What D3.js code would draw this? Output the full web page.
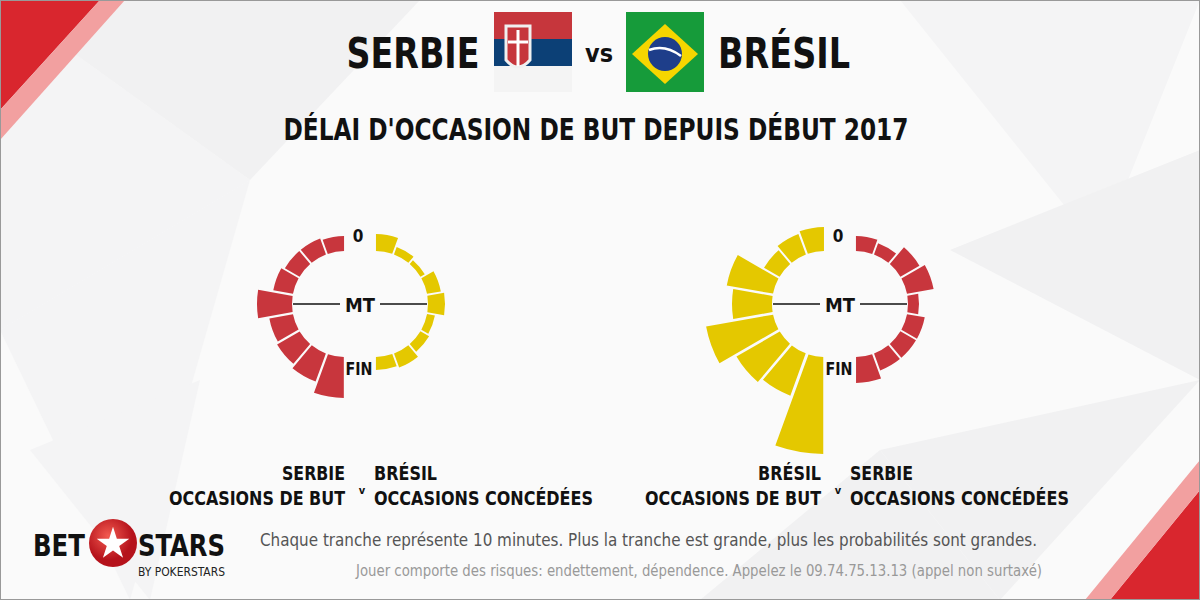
<!DOCTYPE html>
<html><head><meta charset="utf-8">
<script src="https://cdn.jsdelivr.net/npm/d3@7"></script>
<style>body{margin:0;background:#fff}svg{display:block}</style>
</head><body><svg id="c" width="1200" height="600"></svg>
<script>
const slices = ["0-10","10-20","20-30","30-40","40-50","50-60","60-70","70-80","80-90"];
const serbiaAttack   = [15,17,17,20,35,24,26,30,41];
const brazilConceded = [17,8,5,14,17,8,10,15,13];
const brazilAttack   = [24,22,18,47,40,68,50,45,97];
const serbiaConceded = [15,12,22,27,11,18,18,18,26];
const RED="#c8363d", YEL="#e4c800";
const svg=d3.select("#c");
const F="'DejaVu Sans Condensed','Roboto',sans-serif";
const bg=svg.append("g");
bg.append("rect").attr("width",1200).attr("height",600).attr("fill","#fafafa");
const tri=[[0,0,250,180,0,330],[250,180,420,0,0,0],[900,0,1200,0,1100,250],[950,250,1200,380,1200,150],[0,330,250,180,130,600],[1000,600,1200,380,880,450],[30,450,200,380,150,600],[700,600,880,450,1000,600]];
tri.forEach((t,i)=>bg.append("polygon").attr("points",[[t[0],t[1]],[t[2],t[3]],[t[4],t[5]]].join(" ")).attr("fill",i%2?"#f1f1f2":"#f4f4f5"));
bg.append("polygon").attr("points","0,0 100,0 0,110").attr("fill","#d9262e");
bg.append("polygon").attr("points","100,0 125,0 0,140 0,110").attr("fill","#f2a0a0");
bg.append("polygon").attr("points","1200,600 1110,600 1200,490").attr("fill","#d9262e");
bg.append("polygon").attr("points","1110,600 1085,600 1200,460 1200,490").attr("fill","#f2a0a0");
svg.append("rect").attr("x",0.5).attr("y",0.5).attr("width",1199).attr("height",599).attr("fill","none").attr("stroke","#999");

const T=(x,y,s,size,opt={})=>{const t=svg.append("text").attr("x",x).attr("y",y).text(s).attr("font-family",F).attr("font-weight",opt.w||"bold").attr("font-size",size).attr("fill",opt.c||"#111").attr("text-anchor",opt.a||"start");
  if(opt.L) t.attr("textLength",opt.L).attr("lengthAdjust","spacingAndGlyphs"); return t;};
T(413,68,"SERBIE",42,{a:"middle",L:133});
T(599,62,"vs",24,{a:"middle",L:28});
T(784,68,"BRÉSIL",42,{a:"middle",L:132});
T(596,140,"DÉLAI D'OCCASION DE BUT DEPUIS DÉBUT 2017",30,{a:"middle",L:625});
const fs=svg.append("g").attr("transform","translate(494,12)");
fs.append("rect").attr("width",78).attr("height",27).attr("fill","#c6363c");
fs.append("rect").attr("y",27).attr("width",78).attr("height",27).attr("fill","#0c4076");
fs.append("rect").attr("y",54).attr("width",78).attr("height",26).attr("fill","#f4f4f4");
fs.append("path").attr("d","M12,14 h24 v34 q-12,14 -24,0 z").attr("fill","#c6363c").attr("stroke","#f0f0f0").attr("stroke-width",3);
fs.append("path").attr("d","M24,18 v36 M14,30 h20").attr("stroke","#fff").attr("stroke-width",3);
const fb=svg.append("g").attr("transform","translate(626,12)");
fb.append("rect").attr("width",78).attr("height",80).attr("fill","#169b3a");
fb.append("polygon").attr("points","39,12 72,42 39,72 6,42").attr("fill","#f6d600");
fb.append("circle").attr("cx",39).attr("cy",42).attr("r",17).attr("fill","#1e3e8a");
fb.append("path").attr("d","M23,38 q16,-6 32,6").attr("stroke","#fff").attr("stroke-width",2.5).attr("fill","none");

const ang=d3.scaleBand().domain(slices).range([0,Math.PI]).paddingInner(0);
const rad=d3.scaleLinear().domain([0,100]).range([53,153]);
function half(cx,cy,vals,color,side){
  const g=svg.append("g").attr("transform",`translate(${cx},${cy})`);
  const arc=d3.arc().innerRadius(rad(0)).padAngle(0.022);
  g.selectAll("path").data(vals.map((v,i)=>({v,k:slices[i]}))).join("path")
   .attr("fill",color)
   .attr("d",d=>{const a0=ang(d.k),a1=a0+ang.bandwidth();
     return side<0? arc({startAngle:-a0,endAngle:-a1,outerRadius:rad(d.v)}) : arc({startAngle:a0,endAngle:a1,outerRadius:rad(d.v)});});
}
function chart(cx,L,Lc,R,Rc){
  const cy=304;
  half(cx-15,cy,L,Lc,-1); half(cx+15,cy,R,Rc,1);
  svg.append("line").attr("x1",cx-67).attr("x2",cx-20).attr("y1",cy).attr("y2",cy).attr("stroke","#111").attr("stroke-width",1.3);
  svg.append("line").attr("x1",cx+20).attr("x2",cx+67).attr("y1",cy).attr("y2",cy).attr("stroke","#111").attr("stroke-width",1.3);
  T(cx,cy+8,"MT",19,{a:"middle",L:30});
  T(cx-2,242,"0",17,{a:"middle"});
  T(cx-1,375,"FIN",17,{a:"middle",L:27});
}
chart(360,serbiaAttack,RED,brazilConceded,YEL);
chart(840,brazilAttack,YEL,serbiaConceded,RED);

function lab(x,a,b,la,lb){
  T(x-7,480,a,19,{a:"end",L:la}); T(x-7,505,"OCCASIONS DE BUT",19,{a:"end",L:176});
  T(x+10,494,"v",11,{a:"middle"});
  T(x+22,480,b,19,{L:lb}); T(x+22,505,"OCCASIONS CONCÉDÉES",19,{L:219});
}
lab(352,"SERBIE","BRÉSIL",63,63);
lab(828,"BRÉSIL","SERBIE",63,63);
T(260,546,"Chaque tranche représente 10 minutes. Plus la tranche est grande, plus les probabilités sont grandes.",18,{w:"normal",c:"#555",L:777});
T(356,576,"Jouer comporte des risques: endettement, dépendence. Appelez le 09.74.75.13.13 (appel non surtaxé)",15,{w:"normal",c:"#999",L:686});
T(33,556,"BET",30,{L:52}); T(138,556,"STARS",30,{L:87});
const grad=svg.append("defs").append("radialGradient").attr("id","ball").attr("cx","40%").attr("cy","35%");
grad.append("stop").attr("offset","0").attr("stop-color","#f25a50");
grad.append("stop").attr("offset","1").attr("stop-color","#b5121b");
svg.append("circle").attr("cx",113).attr("cy",543).attr("r",24).attr("fill","url(#ball)");
svg.append("path").attr("d",d3.symbol(d3.symbolStar,330)()).attr("transform","translate(113,544)").attr("fill","#fff");
T(138,576,"BY POKERSTARS",13,{w:"normal",c:"#222",L:87});
</script></body></html>
